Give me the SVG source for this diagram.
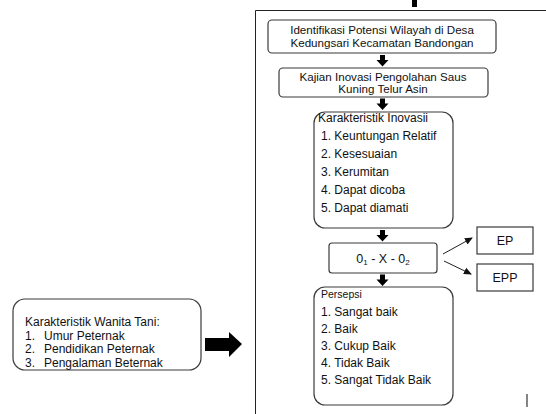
<svg xmlns="http://www.w3.org/2000/svg" width="546" height="414" viewBox="0 0 546 414">
<defs>
<style>
.box{fill:#fff;stroke:#3a3a3a;stroke-width:1.2}
.t{font-family:"Liberation Sans",Arial,sans-serif;font-size:12px;fill:#111}
.c{text-anchor:middle}
.blk{fill:#000}
.ln{stroke:#222;stroke-width:1;fill:none}
</style>
<marker id="ah" markerWidth="8" markerHeight="8" refX="7" refY="4" orient="auto" markerUnits="userSpaceOnUse">
<path d="M0,0.5 L8,4 L0,7.5 Z" fill="#111"/>
</marker>
</defs>
<rect width="546" height="414" fill="#fff"/>
<g id="frame">
<path d="M255.5,414 V10.5 H546" class="ln" stroke="#333" stroke-width="1.2"/>
<rect x="412" y="0" width="5" height="7" class="blk"/>
<line x1="527" y1="394" x2="527" y2="407" stroke="#333" stroke-width="1.2"/>
</g>
<g id="connectors">
<path class="blk" d="M380,55 h5 v5 h3.5 l-6,6.5 l-6,-6.5 h3.5 z"/>
<path class="blk" d="M380,98.5 h5 v5 h3.5 l-6,6.5 l-6,-6.5 h3.5 z"/>
<path class="blk" d="M380,230 h5 v5 h3.5 l-6,6.5 l-6,-6.5 h3.5 z"/>
<path class="blk" d="M380,274.5 h5 v5 h3.5 l-6,6.5 l-6,-6.5 h3.5 z"/>
<path class="blk" d="M205,338 h24 v-6 l13,12 l-13,13 v-6 h-24 z"/>
<line x1="443" y1="254" x2="472" y2="238" class="ln" marker-end="url(#ah)"/>
<line x1="444" y1="261" x2="471" y2="274" class="ln" marker-end="url(#ah)"/>
</g>
<g id="n1">
<rect class="box" x="268" y="20" width="228" height="33" rx="4"/>
<text class="t c" x="382" y="33.5" style="font-size:11.6px">Identifikasi Potensi Wilayah di Desa</text>
<text class="t c" x="382" y="46.5" style="font-size:11.6px">Kedungsari Kecamatan Bandongan</text>
</g>
<g id="n2">
<rect class="box" x="279" y="68" width="209" height="29" rx="4"/>
<text class="t c" x="383" y="80.5" style="font-size:11.6px">Kajian Inovasi Pengolahan Saus</text>
<text class="t c" x="383" y="93" style="font-size:11.6px">Kuning Telur Asin</text>
</g>
<g id="n3">
<rect class="box" x="314" y="112" width="139" height="116" rx="11"/>
<text class="t" x="318" y="122">Karakteristik Inovasii</text>
<text class="t" x="321" y="140">1. Keuntungan Relatif</text>
<text class="t" x="321" y="158">2. Kesesuaian</text>
<text class="t" x="321" y="176">3. Kerumitan</text>
<text class="t" x="321" y="194">4. Dapat dicoba</text>
<text class="t" x="321" y="212">5. Dapat diamati</text>
</g>
<g id="n4">
<rect class="box" x="329" y="243" width="108" height="30" rx="3"/>
<text class="t c" x="383" y="263" style="font-size:12.5px">0<tspan font-size="8" dy="2">1</tspan><tspan dy="-2"> - X - 0</tspan><tspan font-size="8" dy="2">2</tspan></text>
</g>
<g id="ep">
<rect class="box" x="477" y="227" width="56" height="27"/>
<text class="t c" x="505" y="245" style="font-size:12.5px">EP</text>
</g>
<g id="epp">
<rect class="box" x="477" y="264" width="56" height="27"/>
<text class="t c" x="505" y="282" style="font-size:12.5px">EPP</text>
</g>
<g id="n5">
<rect class="box" x="314" y="287" width="139" height="118" rx="11"/>
<text class="t" x="321" y="298" style="font-size:10.5px">Persepsi</text>
<text class="t" x="321" y="316">1. Sangat baik</text>
<text class="t" x="321" y="333">2. Baik</text>
<text class="t" x="321" y="350">3. Cukup Baik</text>
<text class="t" x="321" y="367">4. Tidak Baik</text>
<text class="t" x="321" y="384">5. Sangat Tidak Baik</text>
</g>
<g id="n6">
<rect class="box" x="13" y="299" width="188" height="71" rx="12"/>
<text class="t" x="25" y="326">Karakteristik Wanita Tani:</text>
<text class="t" x="25" y="339.5">1.</text><text class="t" x="44" y="339.5">Umur Peternak</text>
<text class="t" x="25" y="353">2.</text><text class="t" x="44" y="353">Pendidikan Peternak</text>
<text class="t" x="25" y="366.5">3.</text><text class="t" x="44" y="366.5">Pengalaman Beternak</text>
</g>
</svg>
